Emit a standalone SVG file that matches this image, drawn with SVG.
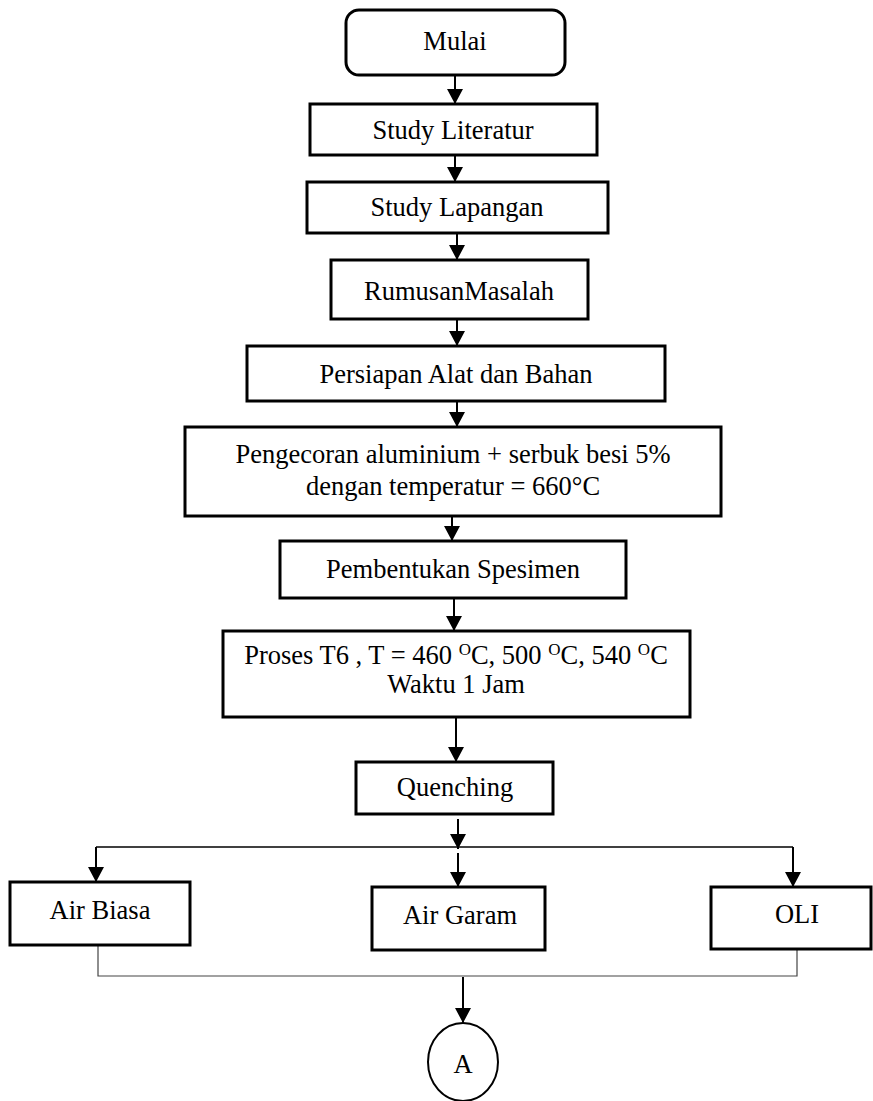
<svg xmlns="http://www.w3.org/2000/svg" width="873" height="1101" viewBox="0 0 873 1101">
<style>
.box{fill:#fff;stroke:#000;stroke-width:3}
.t{font-family:"Liberation Serif","Times New Roman",serif;font-size:26.5px;fill:#000;text-anchor:middle}
.sup{font-size:17px}
.c{stroke:#000;stroke-width:2;fill:none}
.thin{stroke:#000;stroke-width:1.3;fill:none}
.gray{stroke:#444;stroke-width:1.2;fill:none}
</style>
<defs>
<marker id="ah" markerUnits="userSpaceOnUse" markerWidth="18" markerHeight="18" refX="15" refY="8" orient="auto">
<path d="M0,0 L15,8 L0,16 z" fill="#000"/>
</marker>
</defs>
<rect width="873" height="1101" fill="#fff"/>
<g id="connectors">
<line class="c" x1="455" y1="75" x2="455" y2="104" marker-end="url(#ah)"/>
<line class="c" x1="455" y1="155" x2="455" y2="182" marker-end="url(#ah)"/>
<line class="c" x1="457" y1="233" x2="457" y2="260" marker-end="url(#ah)"/>
<line class="c" x1="457" y1="319" x2="457" y2="346" marker-end="url(#ah)"/>
<line class="c" x1="457" y1="401" x2="457" y2="427" marker-end="url(#ah)"/>
<line class="c" x1="452" y1="516" x2="452" y2="541" marker-end="url(#ah)"/>
<line class="c" x1="454" y1="598" x2="454" y2="631" marker-end="url(#ah)"/>
<line class="c" x1="456" y1="717" x2="456" y2="762" marker-end="url(#ah)"/>
<line class="c" x1="458" y1="819" x2="458" y2="849" marker-end="url(#ah)"/>
<line class="thin" x1="96" y1="847" x2="793" y2="847"/>
<line class="c" x1="96" y1="847" x2="96" y2="882" marker-end="url(#ah)"/>
<line class="c" x1="458" y1="853" x2="458" y2="887" marker-end="url(#ah)"/>
<line class="c" x1="793" y1="847" x2="793" y2="887" marker-end="url(#ah)"/>
<polyline class="gray" points="98,945 98,976 797,976 797,949"/>
<line class="c" x1="463" y1="977" x2="463" y2="1023" marker-end="url(#ah)"/>
</g>
<g id="mulai">
<rect class="box" x="346" y="10" width="219" height="65" rx="13"/>
<text class="t" x="455" y="50">Mulai</text>
</g>
<g id="study-literatur">
<rect class="box" x="310" y="104" width="287" height="51"/>
<text class="t" x="453" y="139">Study Literatur</text>
</g>
<g id="study-lapangan">
<rect class="box" x="307" y="182" width="301" height="51"/>
<text class="t" x="457" y="216">Study Lapangan</text>
</g>
<g id="rumusan">
<rect class="box" x="331" y="260" width="257" height="59"/>
<text class="t" x="459" y="300">RumusanMasalah</text>
</g>
<g id="persiapan">
<rect class="box" x="247" y="346" width="418" height="55"/>
<text class="t" x="456" y="383">Persiapan Alat dan Bahan</text>
</g>
<g id="pengecoran">
<rect class="box" x="185" y="427" width="536" height="89"/>
<text class="t" x="453" y="463">Pengecoran aluminium + serbuk besi 5%</text>
<text class="t" x="453" y="495">dengan temperatur = 660°C</text>
</g>
<g id="pembentukan">
<rect class="box" x="280" y="541" width="346" height="57"/>
<text class="t" x="453" y="578">Pembentukan Spesimen</text>
</g>
<g id="proses">
<rect class="box" x="223" y="631" width="467" height="86"/>
<text class="t" x="456" y="664">Proses T6 , T = 460 <tspan class="sup" dy="-9">O</tspan><tspan dy="9">C, 500 </tspan><tspan class="sup" dy="-9">O</tspan><tspan dy="9">C, 540 </tspan><tspan class="sup" dy="-9">O</tspan><tspan dy="9">C</tspan></text>
<text class="t" x="456" y="693">Waktu 1 Jam</text>
</g>
<g id="quenching">
<rect class="box" x="356" y="762" width="197" height="52"/>
<text class="t" x="455" y="796">Quenching</text>
</g>
<g id="air-biasa">
<rect class="box" x="10" y="882" width="180" height="63"/>
<text class="t" x="100" y="919">Air Biasa</text>
</g>
<g id="air-garam">
<rect class="box" x="372" y="887" width="173" height="63"/>
<text class="t" x="460" y="924">Air Garam</text>
</g>
<g id="oli">
<rect class="box" x="711" y="887" width="160" height="62"/>
<text class="t" x="797" y="923">OLI</text>
</g>
<g id="connector-a">
<ellipse cx="463" cy="1062" rx="35" ry="39" fill="#fff" stroke="#000" stroke-width="2"/>
<text class="t" x="463" y="1073">A</text>
</g>
</svg>
